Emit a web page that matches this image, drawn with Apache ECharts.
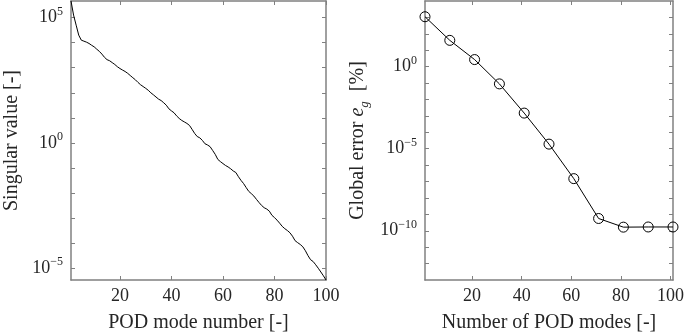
<!DOCTYPE html>
<html>
<head>
<meta charset="utf-8">
<script src="https://cdn.jsdelivr.net/npm/echarts@6/dist/echarts.min.js"></script>
<style>
html, body { margin: 0; padding: 0; background: #fff; }
#chart { width: 685px; height: 333px; }
</style>
</head>
<body>
<div id="chart"></div>
<script>
// singular values, modes 1..100
var modeNumbers = [];
for (var i = 1; i <= 100; i++) modeNumbers.push(i);
var singularValues = [
    4.6e5, 1.26e5, 5.0e4, 2.0e4, 1.26e4, 1.15e4, 1.05e4, 9.3e3, 7.9e3, 6.8e3,
    5.5e3, 4.5e3, 3.5e3, 2.6e3, 2.1e3, 1.9e3, 1.6e3, 1.35e3, 1.1e3, 930,
    810, 710, 600, 490, 400, 330, 260, 210, 178, 151,
    126, 100, 83, 68, 56, 49, 40, 32, 23, 19,
    16, 12, 9.5, 7.9, 6.9, 6.0, 5.0, 3.5, 2.4, 1.8,
    1.6, 1.26, 0.93, 0.83, 0.71, 0.50, 0.35, 0.22, 0.18, 0.15,
    0.126, 0.11, 0.093, 0.076, 0.066, 0.045, 0.032, 0.024, 0.0166, 0.0117,
    9.5e-3, 7.6e-3, 5.6e-3, 4.2e-3, 3.2e-3, 2.6e-3, 2.3e-3, 1.9e-3, 1.3e-3, 1.05e-3,
    8.3e-4, 6.3e-4, 4.7e-4, 3.8e-4, 3.2e-4, 2.6e-4, 1.9e-4, 1.26e-4, 1.05e-4, 8.9e-5,
    7.2e-5, 5.0e-5, 3.2e-5, 2.2e-5, 1.86e-5, 1.38e-5, 1.0e-5, 7.1e-6, 5.0e-6, 3.4e-6
];
// global error vs number of modes
var podModes = [1, 11, 21, 31, 41, 51, 61, 71, 81, 91, 101];
var globalError = [1100, 40, 2.7, 0.089, 1.48e-3, 1.9e-5, 1.5e-7, 5.6e-10, 1.66e-10, 1.7e-10, 1.7e-10];

// ticks and labels
var xTicks = [20, 40, 60, 80, 100];
var leftYTicks = [1e-5, 1e-4, 1e-3, 1e-2, 1e-1, 1, 1e1, 1e2, 1e3, 1e4, 1e5];
var leftYLabels = [1e-5, 1, 1e5];
var rightYTicks = [1e-12, 1e-11, 1e-10, 1e-9, 1e-8, 1e-7, 1e-6, 1e-5, 1e-4, 1e-3, 1e-2, 1e-1, 1, 1e1, 1e2, 1e3];
var rightYLabels = [1e-10, 1e-5, 1];

var font = "Liberation Serif";
var textColor = "#262626";
var frameColor = "#808080";

function logLabel(value) {
    var r = Math.round(Math.log10(value));
    return "{b|10}{s|" + (r < 0 ? "\u2212" + (-r) : r) + "}";
}

var labelRich = {
    b: { fontFamily: font, fontSize: 18, color: textColor, lineHeight: 24 },
    s: { fontFamily: font, fontSize: 12, color: textColor, verticalAlign: "top", lineHeight: 12 }
};

function xAxes(gridIndex, max, name) {
    var base = {
        gridIndex: gridIndex,
        type: "value",
        min: 1,
        max: max,
        splitLine: { show: false },
        axisLine: { show: true, lineStyle: { color: frameColor, width: 1.5 } },
        axisTick: { show: true, inside: true, length: 4, customValues: xTicks, lineStyle: { color: frameColor } }
    };
    return [
        Object.assign({}, base, {
            position: "bottom",
            axisLabel: { customValues: xTicks, fontFamily: font, fontSize: 18, color: textColor, margin: 7 },
            name: name,
            nameLocation: "middle",
            nameGap: 33,
            nameTextStyle: { fontFamily: font, fontSize: 20, color: textColor }
        }),
        Object.assign({}, base, { position: "top", axisLabel: { show: false } })
    ];
}

function yAxes(gridIndex, min, max, ticks, labels, name, nameGap) {
    var base = {
        gridIndex: gridIndex,
        type: "log",
        logBase: 10,
        min: min,
        max: max,
        splitLine: { show: false },
        axisLine: { show: true, lineStyle: { color: frameColor, width: 1.5 } },
        axisTick: { show: true, inside: true, length: 4, customValues: ticks, lineStyle: { color: frameColor } }
    };
    return [
        Object.assign({}, base, {
            position: "left",
            axisLabel: { customValues: labels, formatter: logLabel, rich: labelRich, margin: 8 },
            name: name,
            nameLocation: "middle",
            nameGap: nameGap,
            nameTextStyle: {
                fontFamily: font, fontSize: 20, color: textColor,
                rich: {
                    n: { fontFamily: font, fontSize: 20, color: textColor, lineHeight: 26 },
                    i: { fontFamily: font, fontSize: 20, fontStyle: "italic", color: textColor, lineHeight: 26 },
                    g: { fontFamily: font, fontSize: 13, fontStyle: "italic", color: textColor, verticalAlign: "bottom", lineHeight: 13 }
                }
            }
        }),
        Object.assign({}, base, { position: "right", axisLabel: { show: false } })
    ];
}

var chart = echarts.init(document.getElementById("chart"), null, { renderer: "canvas" });
var option = {
    animation: false,
    backgroundColor: "#fff",
    grid: [
        { left: 71, top: 1, width: 255, height: 279, outerBoundsMode: "none", containLabel: false },
        { left: 425, top: 1, width: 248, height: 279, outerBoundsMode: "none", containLabel: false }
    ],
    xAxis: xAxes(0, 100, "POD mode number [-]").concat(xAxes(1, 101, "Number of POD modes [-]")),
    yAxis: yAxes(0, 3.4e-6, 4.6e5, leftYTicks, leftYLabels, "{n|Singular value [-]}", 46).concat(
        yAxes(1, 1e-13, 1e4, rightYTicks, rightYLabels, "{n|Global error }{i|e}{g|g}{n|  [%]}", 54)),
    series: [{
        type: "line",
        xAxisIndex: 0,
        yAxisIndex: 0,
        data: modeNumbers.map(function (n, k) { return [n, singularValues[k]]; }),
        showSymbol: false,
        lineStyle: { color: "#000", width: 1 }
    }, {
        type: "line",
        xAxisIndex: 2,
        yAxisIndex: 2,
        data: podModes.map(function (n, k) { return [n, globalError[k]]; }),
        symbol: "circle",
        symbolSize: 10,
        itemStyle: { color: "rgba(0,0,0,0)", borderColor: "#000", borderWidth: 1 },
        lineStyle: { color: "#000", width: 1 }
    }]
};
chart.setOption(option);
</script>
</body>
</html>
